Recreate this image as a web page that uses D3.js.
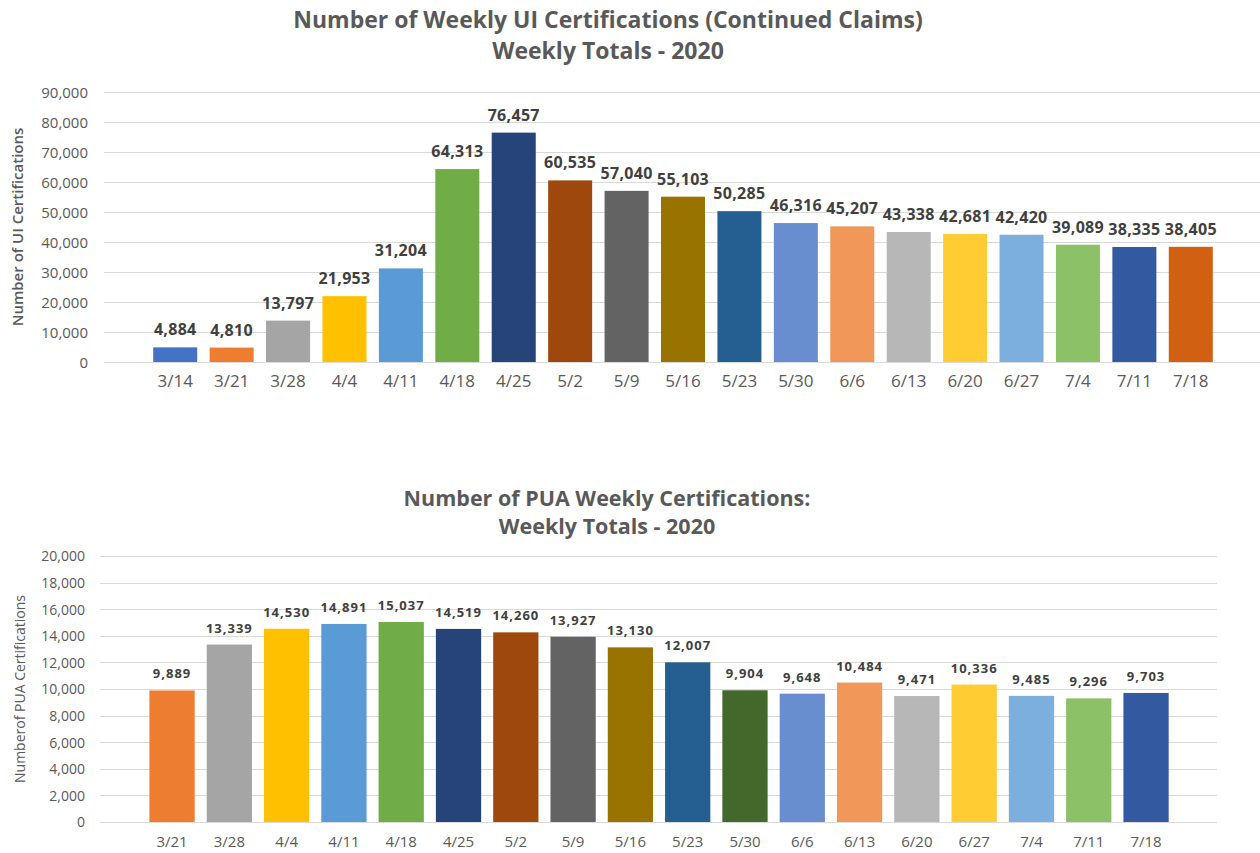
<!DOCTYPE html>
<html>
<head>
<meta charset="utf-8">
<script src="https://cdn.jsdelivr.net/npm/d3@7"></script>
<style>
  body { margin: 0; background: #fff; }
  svg { display: block; }
</style>
</head>
<body>
<svg id="chart" width="1260" height="853"></svg>
<script>
// UI continued claims (top chart)
const uiWeeks = ['3/14','3/21','3/28','4/4','4/11','4/18','4/25','5/2','5/9','5/16','5/23','5/30','6/6','6/13','6/20','6/27','7/4','7/11','7/18'];
const uiValues = [4884, 4810, 13797, 21953, 31204, 64313, 76457, 60535, 57040, 55103, 50285, 46316, 45207, 43338, 42681, 42420, 39089, 38335, 38405];
const uiColors = ['#4472C4','#ED7D31','#A5A5A5','#FFC000','#5B9BD5','#70AD47','#264478','#9E480E','#636363','#997300','#255E91','#698ED0','#F1975A','#B7B7B7','#FFCD33','#7CAFDD','#8CC168','#335AA1','#D26012'];
const uiTicks = [0, 10000, 20000, 30000, 40000, 50000, 60000, 70000, 80000, 90000];

// PUA certifications (bottom chart)
const puaWeeks = ['3/21','3/28','4/4','4/11','4/18','4/25','5/2','5/9','5/16','5/23','5/30','6/6','6/13','6/20','6/27','7/4','7/11','7/18'];
const puaValues = [9889, 13339, 14530, 14891, 15037, 14519, 14260, 13927, 13130, 12007, 9904, 9648, 10484, 9471, 10336, 9485, 9296, 9703];
const puaColors = ['#ED7D31','#A5A5A5','#FFC000','#5B9BD5','#70AD47','#264478','#9E480E','#636363','#997300','#255E91','#43682B','#698ED0','#F1975A','#B7B7B7','#FFCD33','#7CAFDD','#8CC168','#335AA1'];
const puaTicks = [0, 2000, 4000, 6000, 8000, 10000, 12000, 14000, 16000, 18000, 20000];

const svg = d3.select('#chart');
const fmt = d3.format(',');
const FONT = '"Open Sans", "Noto Sans", sans-serif';
const GRAY = '#595959';

function drawChart(cfg) {
  const g = svg.append('g');

  const x = d3.scaleBand()
    .domain(cfg.weeks)
    .range(cfg.xRange)
    .paddingInner(cfg.pad)
    .paddingOuter(cfg.pad / 2);

  const y = d3.scaleLinear()
    .domain([0, d3.max(cfg.ticks)])
    .range(cfg.yRange);

  // titles
  cfg.title.forEach((t, i) => {
    g.append('text')
      .attr('x', cfg.titleX)
      .attr('y', cfg.titleY[i])
      .attr('text-anchor', 'middle')
      .attr('fill', GRAY)
      .style('font-family', FONT)
      .style('font-weight', 700)
      .style('font-size', cfg.titleSize + 'px')
      .text(t);
  });

  // gridlines
  g.append('g')
    .selectAll('line')
    .data(cfg.ticks)
    .join('line')
    .attr('x1', cfg.gridX[0])
    .attr('x2', cfg.gridX[1])
    .attr('y1', d => Math.round(y(d)) + 0.5)
    .attr('y2', d => Math.round(y(d)) + 0.5)
    .attr('stroke', '#d9d9d9')
    .attr('stroke-width', 1);

  // y axis tick labels
  const yAxis = d3.axisLeft(y).tickValues(cfg.ticks).tickFormat(fmt).tickSize(0).tickPadding(0);
  const ya = g.append('g')
    .attr('transform', `translate(${cfg.tickRight},0)`)
    .call(yAxis);
  ya.select('.domain').remove();
  ya.selectAll('text')
    .attr('fill', GRAY)
    .attr('dy', '0.35em')
    .style('font-family', FONT)
    .style('font-size', cfg.tickSize + 'px');

  // y axis title
  g.append('text')
    .attr('transform', `translate(${cfg.yTitleX},${(cfg.yRange[0] + cfg.yRange[1]) / 2}) rotate(-90)`)
    .attr('text-anchor', 'middle')
    .attr('dy', '0.35em')
    .attr('fill', GRAY)
    .style('font-family', FONT)
    .style('font-weight', cfg.yTitleWeight)
    .style('font-size', cfg.yTitleSize + 'px')
    .text(cfg.yTitle);

  // bars
  g.append('g')
    .selectAll('rect')
    .data(cfg.values)
    .join('rect')
    .attr('x', (d, i) => x(cfg.weeks[i]))
    .attr('width', x.bandwidth())
    .attr('y', d => y(d))
    .attr('height', d => y(0) - y(d))
    .attr('fill', (d, i) => cfg.colors[i]);

  // data labels
  g.append('g')
    .selectAll('text')
    .data(cfg.values)
    .join('text')
    .attr('x', (d, i) => x(cfg.weeks[i]) + x.bandwidth() / 2)
    .attr('y', d => y(d) - cfg.labelGap)
    .attr('text-anchor', 'middle')
    .attr('fill', '#404040')
    .style('font-family', FONT)
    .style('font-weight', 700)
    .style('font-size', cfg.labelSize + 'px')
    .style('letter-spacing', cfg.labelSpacing + 'px')
    .text(d => fmt(d));

  // x axis labels
  const xAxis = d3.axisBottom(x).tickSize(0).tickPadding(0);
  const xa = g.append('g')
    .attr('transform', `translate(0,${cfg.xLabelY})`)
    .call(xAxis);
  xa.select('.domain').remove();
  xa.selectAll('text')
    .attr('fill', GRAY)
    .attr('dy', 0)
    .style('font-family', FONT)
    .style('font-size', cfg.xLabelSize + 'px');
}

drawChart({
  weeks: uiWeeks, values: uiValues, colors: uiColors, ticks: uiTicks,
  xRange: [147, 1219], pad: 0.22,
  yRange: [362, 92],
  gridX: [104, 1260],
  title: ['Number of Weekly UI Certifications (Continued Claims)', 'Weekly Totals - 2020'],
  titleX: 608, titleY: [28, 59], titleSize: 23,
  tickRight: 88, tickSize: 15,
  yTitle: 'Number of UI Certifications', yTitleX: 18, yTitleSize: 15, yTitleWeight: 600,
  labelGap: 12, labelSize: 16, labelSpacing: 0.3,
  xLabelY: 387, xLabelSize: 17
});

drawChart({
  weeks: puaWeeks, values: puaValues, colors: puaColors, ticks: puaTicks,
  xRange: [143.4, 1174.7], pad: 0.21,
  yRange: [822, 556],
  gridX: [100, 1217],
  title: ['Number of PUA Weekly Certifications:', 'Weekly Totals - 2020'],
  titleX: 607, titleY: [506, 534], titleSize: 21.5,
  tickRight: 85, tickSize: 14,
  yTitle: 'Numberof PUA Certifications', yTitleX: 20, yTitleSize: 14, yTitleWeight: 400,
  labelGap: 12, labelSize: 13, labelSpacing: 1,
  xLabelY: 847, xLabelSize: 15
});
</script>
</body>
</html>
